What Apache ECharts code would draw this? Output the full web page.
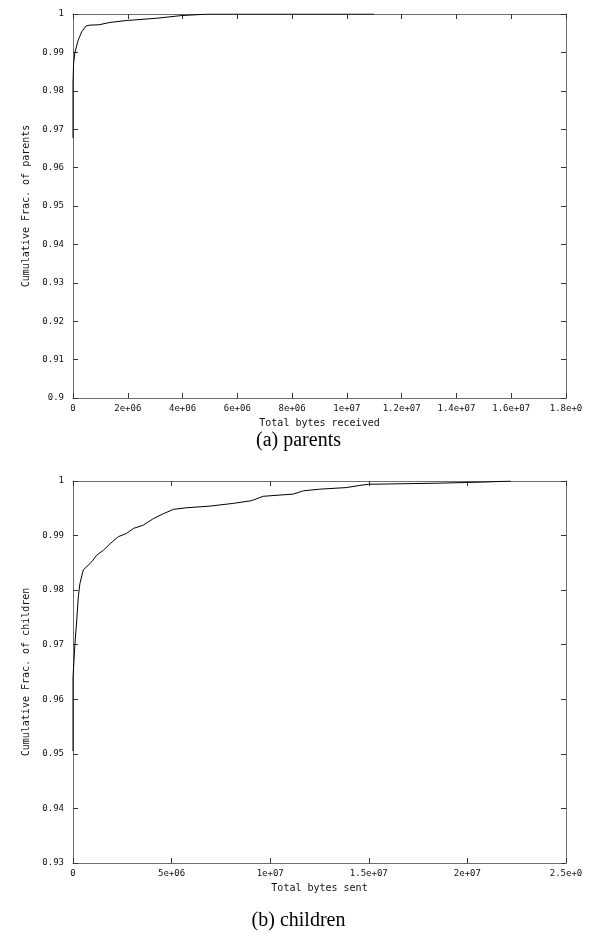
<!DOCTYPE html>
<html>
<head>
<meta charset="utf-8">
<script src="https://cdn.jsdelivr.net/npm/echarts@6/dist/echarts.min.js"></script>
<style>
  html, body { margin: 0; padding: 0; background: #fff; }
  #chart { width: 597px; height: 940px; }
</style>
</head>
<body>
<div id="chart"></div>
<script>
// ---- data: (a) parents ----
const parentsX = [0, 0, 2e4, 7e4, 1.9e5, 3.2e5, 4.8e5, 6.2e5, 9.5e5, 1.35e6, 1.96e6, 3.06e6, 3.97e6, 5.0e6, 1.1e7];
const parentsY = [0.9677, 0.982, 0.987, 0.990, 0.9932, 0.9954, 0.9969, 0.9971, 0.9972, 0.9978, 0.9983, 0.9989, 0.9996, 1.0, 1.0];
const xTicksA = ['0', '2e+06', '4e+06', '6e+06', '8e+06', '1e+07', '1.2e+07', '1.4e+07', '1.6e+07', '1.8e+0'];
const yTicksA = ['0.9', '0.91', '0.92', '0.93', '0.94', '0.95', '0.96', '0.97', '0.98', '0.99', '1'];

// ---- data: (b) children ----
const childrenX = [0, 0, 1.0e5, 1.9e5, 2.7e5, 3.5e5, 5.2e5, 6.1e5, 9.5e5, 1.2e6, 1.54e6, 1.88e6, 2.3e6, 2.72e6, 3.06e6, 3.56e6, 4.07e6, 4.58e6, 5.09e6, 5.77e6, 6.95e6, 8.13e6, 9.06e6, 9.65e6, 1.117e7, 1.168e7, 1.25e7, 1.388e7, 1.455e7, 1.5e7, 1.85e7, 2.08e7, 2.22e7];
const childrenY = [0.9505, 0.964, 0.9703, 0.9745, 0.9788, 0.9812, 0.9837, 0.9840, 0.9852, 0.9864, 0.9873, 0.9885, 0.9898, 0.9904, 0.9913, 0.9919, 0.9931, 0.9940, 0.9948, 0.9951, 0.9954, 0.9959, 0.9964, 0.9972, 0.9976, 0.9982, 0.9985, 0.9988, 0.9992, 0.9994, 0.9996, 0.9998, 1.0];
const xTicksB = ['0', '5e+06', '1e+07', '1.5e+07', '2e+07', '2.5e+0'];
const yTicksB = ['0.93', '0.94', '0.95', '0.96', '0.97', '0.98', '0.99', '1'];

const captionA = '(a) parents';
const captionB = '(b) children';

const MONO = 'DejaVu Sans Mono';
const BORDER = '#6e6e6e';

function lookup(arr, min, step) {
  return function (v) {
    const i = Math.round((v - min) / step);
    return arr[i] !== undefined ? arr[i] : '';
  };
}

function xAx(grid, min, max, interval, labels, name, show) {
  return {
    type: 'value', gridIndex: grid, min: min, max: max, interval: interval,
    position: show ? 'bottom' : 'top',
    name: show ? name : '', nameLocation: 'middle', nameGap: 20,
    nameTextStyle: { fontFamily: MONO, fontSize: 10, color: '#111' },
    axisLine: { show: true, onZero: false, lineStyle: { color: BORDER, width: 1 } },
    axisTick: { show: true, inside: true, length: 5, lineStyle: { color: '#333' } },
    axisLabel: { show: show, margin: 6, fontFamily: MONO, fontSize: 9, color: '#111',
                 formatter: lookup(labels, min, interval), showMinLabel: true, showMaxLabel: true, hideOverlap: false },
    splitLine: { show: false }
  };
}

function yAx(grid, min, max, interval, labels, name, show) {
  return {
    type: 'value', gridIndex: grid, min: min, max: max, interval: interval,
    position: show ? 'left' : 'right',
    name: show ? name : '', nameLocation: 'middle', nameGap: 42, nameRotate: 90,
    nameTextStyle: { fontFamily: MONO, fontSize: 10, color: '#111' },
    axisLine: { show: true, onZero: false, lineStyle: { color: BORDER, width: 1 } },
    axisTick: { show: true, inside: true, length: 5, lineStyle: { color: '#333' } },
    axisLabel: { show: show, margin: 9, fontFamily: MONO, fontSize: 9, color: '#111',
                 formatter: lookup(labels, min, interval), showMinLabel: true, showMaxLabel: true },
    splitLine: { show: false }
  };
}

const chart = echarts.init(document.getElementById('chart'), null, { renderer: 'canvas' });
chart.setOption({
  backgroundColor: '#ffffff',
  animation: false,
  title: [
    { text: captionA, left: 'center', top: 426,
      textStyle: { fontFamily: 'Liberation Serif', fontSize: 20, fontWeight: 'normal', color: '#000' } },
    { text: captionB, left: 'center', top: 906,
      textStyle: { fontFamily: 'Liberation Serif', fontSize: 20, fontWeight: 'normal', color: '#000' } }
  ],
  grid: [
    { left: 73, top: 14, width: 493, height: 384 },
    { left: 73, top: 481, width: 493, height: 382 }
  ],
  xAxis: [
    xAx(0, 0, 1.8e7, 2e6, xTicksA, 'Total bytes received', true),
    xAx(0, 0, 1.8e7, 2e6, xTicksA, '', false),
    xAx(1, 0, 2.5e7, 5e6, xTicksB, 'Total bytes sent', true),
    xAx(1, 0, 2.5e7, 5e6, xTicksB, '', false)
  ],
  yAxis: [
    yAx(0, 0.9, 1.0, 0.01, yTicksA, 'Cumulative Frac. of parents', true),
    yAx(0, 0.9, 1.0, 0.01, yTicksA, '', false),
    yAx(1, 0.93, 1.0, 0.01, yTicksB, 'Cumulative Frac. of children', true),
    yAx(1, 0.93, 1.0, 0.01, yTicksB, '', false)
  ],
  series: [
    { type: 'line', xAxisIndex: 0, yAxisIndex: 0, showSymbol: false, silent: true,
      lineStyle: { color: '#000', width: 1 },
      data: parentsX.map((x, i) => [x, parentsY[i]]) },
    { type: 'line', xAxisIndex: 2, yAxisIndex: 2, showSymbol: false, silent: true,
      lineStyle: { color: '#000', width: 1 },
      data: childrenX.map((x, i) => [x, childrenY[i]]) }
  ]
});
</script>
</body>
</html>
